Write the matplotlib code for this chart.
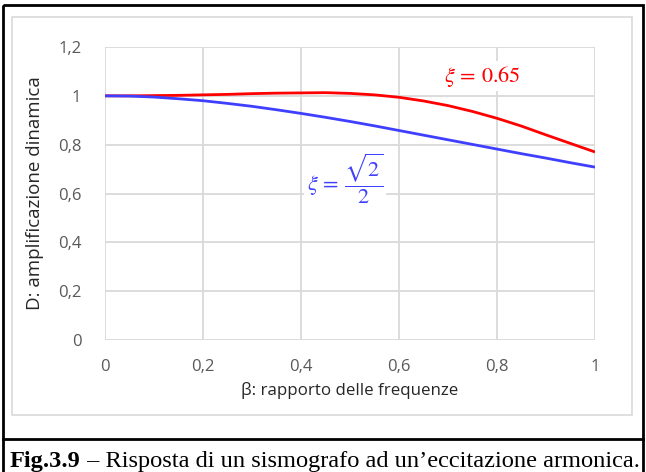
import numpy as np
import matplotlib
matplotlib.use('Agg')
import matplotlib.pyplot as plt
from matplotlib.patches import Rectangle
from matplotlib.lines import Line2D

# Frequency ratio and dynamic amplification for the two damping levels
beta = [0.0, 0.05, 0.1, 0.15, 0.2, 0.25, 0.3, 0.35, 0.4, 0.45, 0.5,
        0.55, 0.6, 0.65, 0.7, 0.75, 0.8, 0.85, 0.9, 0.95, 1.0]
d_sqrt2 = [1.0, 0.999, 0.995, 0.988, 0.980, 0.969, 0.957, 0.943, 0.928, 0.912, 0.895,
           0.877, 0.858, 0.839, 0.820, 0.801, 0.782, 0.763, 0.745, 0.726, 0.708]
d_065 = [1.0, 1.000, 1.001, 1.002, 1.004, 1.006, 1.009, 1.011, 1.012, 1.013, 1.010,
         1.004, 0.994, 0.979, 0.960, 0.936, 0.908, 0.876, 0.840, 0.805, 0.770]

x_ticks = [0, 0.2, 0.4, 0.6, 0.8, 1.0]
x_labels = ['0', '0,2', '0,4', '0,6', '0,8', '1']
y_ticks = [0, 0.2, 0.4, 0.6, 0.8, 1.0, 1.2]
y_labels = ['0', '0,2', '0,4', '0,6', '0,8', '1', '1,2']

plt.rcParams['font.family'] = ['Open Sans', 'DejaVu Sans']
plt.rcParams['mathtext.fontset'] = 'stix'

W, H = 646, 472
fig = plt.figure(figsize=(W / 100, H / 100), dpi=100)

# overlay axes in pixel units for the frame and caption
ov = fig.add_axes([0, 0, 1, 1])
ov.set_xlim(0, W)
ov.set_ylim(H, 0)
ov.axis('off')
ov.add_patch(Rectangle((3, 5), 640, 480, fill=False, ec='black', lw=2))
ov.add_line(Line2D([3, 643], [439, 439], color='black', lw=2))
ov.add_patch(Rectangle((12, 17), 620, 398, fill=False, ec='#D9D9D9', lw=1.2))

# caption: bold figure number followed by regular text
cap_size = 17.6
t1 = ov.text(10, 461, 'Fig.3.9', family='Liberation Serif', fontweight='bold',
             fontsize=cap_size, va='center', ha='left')
fig.canvas.draw()
x_end = t1.get_window_extent().x1
ov.text(x_end, 461, ' – Risposta di un sismografo ad un’eccitazione armonica.',
        family='Liberation Serif', fontsize=cap_size, va='center', ha='left')

ax = fig.add_axes([105 / W, 1 - 340 / H, 490 / W, 293 / H])
ax.plot(beta, d_065, color='#FF0000', lw=2, solid_capstyle='butt', zorder=3)
ax.plot(beta, d_sqrt2, color='#3F3FFF', lw=2, solid_capstyle='butt', zorder=3)

ax.set_xlim(0, 1)
ax.set_ylim(0, 1.2)
ax.set_xticks(x_ticks)
ax.set_xticklabels(x_labels)
ax.set_yticks(y_ticks)
ax.set_yticklabels(y_labels)
ax.tick_params(axis='both', length=0, labelsize=12, labelcolor='#595959')
ax.tick_params(axis='x', pad=14)
ax.tick_params(axis='y', pad=17)
ax.grid(True, color='#D9D9D9', lw=1.3)
ax.set_axisbelow(True)
for s in ax.spines.values():
    s.set_visible(False)

ax.set_xlabel('β: rapporto delle frequenze', fontsize=12.2, color='#262626', labelpad=5)
ax.set_ylabel('D: amplificazione dinamica', fontsize=13.5, color='#262626', labelpad=10)

ax.text(0.77, 1.08, r'$\xi\,=\,0.65$', color='#FF0000', fontsize=16,
        ha='center', va='center', zorder=4,
        bbox=dict(fc='white', ec='none', pad=2))
ax.text(0.49, 0.66, r'$\xi\,=\,\dfrac{\sqrt{2}}{2}$', color='#3F3FFF', fontsize=16,
        ha='center', va='center', zorder=4,
        bbox=dict(fc='white', ec='none', pad=2))

fig.savefig('out.png', dpi=100)
